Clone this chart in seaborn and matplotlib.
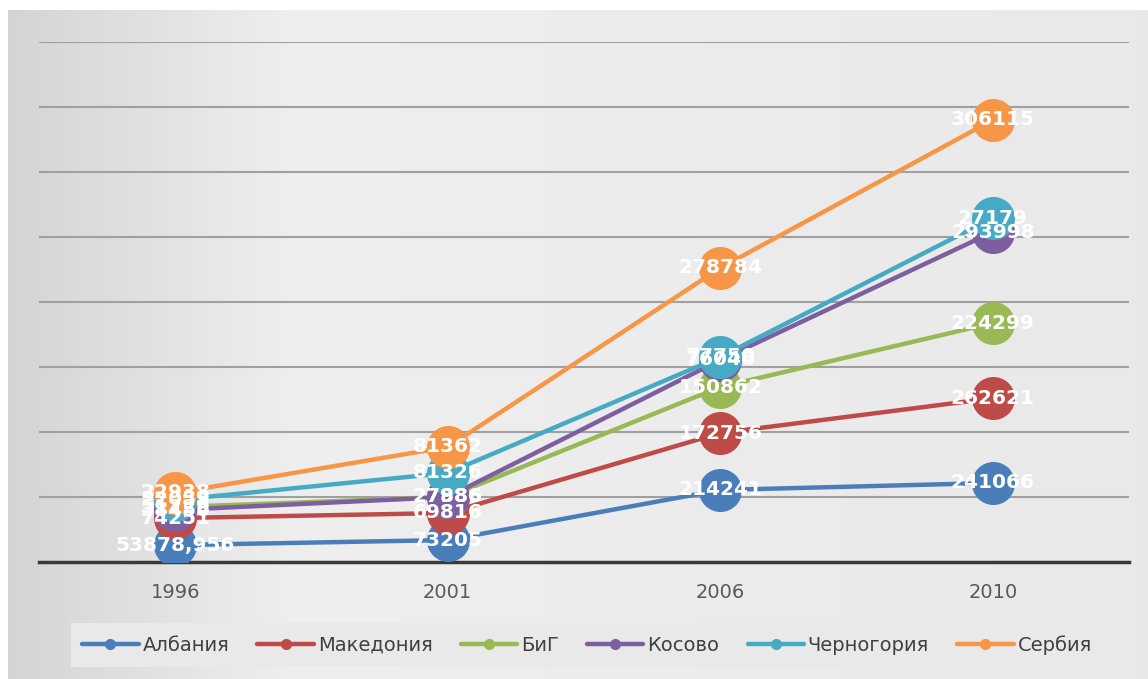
import matplotlib
matplotlib.use("Agg")
import matplotlib.pyplot as plt
from matplotlib.lines import Line2D
import seaborn as sns
import pandas as pd
import numpy as np

# categories and series (positions, gridline step = 50000)
years = ["1996", "2001", "2006", "2010"]
countries = ["Албания", "Македония", "БиГ", "Косово", "Черногория", "Сербия"]
albania = [13000, 16900, 55400, 60800]
macedonia = [33800, 37700, 99200, 126000]
big = [42300, 50000, 134600, 183800]
kosovo = [40000, 50000, 155400, 253800]
montenegro = [47700, 68500, 157700, 264600]
serbia = [53100, 88500, 226200, 340000]

# data labels as printed on the chart
labels_albania = ["53878,956", "73205", "214241", "241066"]
labels_macedonia = ["74251", "69816", "172756", "262621"]
labels_big = ["51229", "27886", "150862", "224299"]
labels_kosovo = ["38456", "27986", "76046", "293998"]
labels_montenegro = ["22059", "81326", "77750", "27179"]
labels_serbia = ["22938", "81362", "278784", "306115"]

colors = ["#4A7EBB", "#BE4B48", "#98B954", "#7D5FA0", "#46AAC5", "#F79646"]

values = [albania, macedonia, big, kosovo, montenegro, serbia]
labels = [labels_albania, labels_macedonia, labels_big, labels_kosovo,
          labels_montenegro, labels_serbia]

rows = []
for c, vals in zip(countries, values):
    for i, (y, v) in enumerate(zip(years, vals)):
        rows.append({"country": c, "year": y, "pos": i, "value": v})
df = pd.DataFrame(rows)

sns.set_style("white")
plt.rcParams["font.family"] = ["DejaVu Sans"]

fig = plt.figure(figsize=(11.48, 6.79), dpi=100, facecolor="white")

# gray gradient background of the chart area
bg = fig.add_axes([8 / 1148, 0, 1 - 8 / 1148, 1 - 10 / 679])
grad = np.linspace(0.0, 1.0, 256)
shade = 0.83 + 0.11 * np.minimum(grad * 4, 1.0) - 0.03 * grad
bg.imshow(np.tile(shade, (10, 1)), aspect="auto", cmap="gray", vmin=0, vmax=1,
          extent=[0, 1, 0, 1])
bg.axis("off")

ax = fig.add_axes([39 / 1148, 1 - 562 / 679, 1090 / 1148, 520 / 679])
ax.patch.set_alpha(0)

sns.lineplot(
    data=df, x="pos", y="value", hue="country", hue_order=countries,
    palette=colors, marker="o", markersize=31, markeredgewidth=0,
    linewidth=3.2, legend=False, ax=ax, zorder=3,
)

for lab, vals in zip(labels, values):
    for i, (t, v) in enumerate(zip(lab, vals)):
        ax.text(i, v, t, ha="center", va="center", color="white",
                fontsize=14.5, fontweight="bold", zorder=5)

ax.set_xlim(-0.5, 3.5)
ax.set_ylim(0, 400000)
ax.set_yticks(np.arange(50000, 400001, 50000))
ax.set_yticklabels([])
ax.yaxis.grid(True, color="#a0a0a0", linewidth=1.5)
ax.set_axisbelow(True)
ax.set_xticks(range(len(years)))
ax.set_xticklabels(years, fontsize=14, color="#595959")
ax.tick_params(axis="both", length=0, pad=15)
ax.set_xlabel("")
ax.set_ylabel("")
for s in ["top", "right", "left"]:
    ax.spines[s].set_visible(False)
ax.spines["bottom"].set_color("#3a3a3a")
ax.spines["bottom"].set_linewidth(2.5)

handles = [Line2D([0], [0], color=c, linewidth=3.2, marker="o", markersize=7)
           for c in colors]
leg = fig.legend(handles, countries, loc="center", bbox_to_anchor=(587 / 1148, 1 - 645 / 679),
                 ncol=6, frameon=True, framealpha=1, fontsize=14, handlelength=2.9,
                 handletextpad=0.2, columnspacing=1.45, borderpad=0.6)
leg.get_frame().set_facecolor("#e9e9e9")
leg.get_frame().set_edgecolor("none")
leg.get_frame().set_boxstyle("square", pad=0)
for t in leg.get_texts():
    t.set_color("#404040")

fig.savefig("out.png", dpi=100, facecolor=fig.get_facecolor())
